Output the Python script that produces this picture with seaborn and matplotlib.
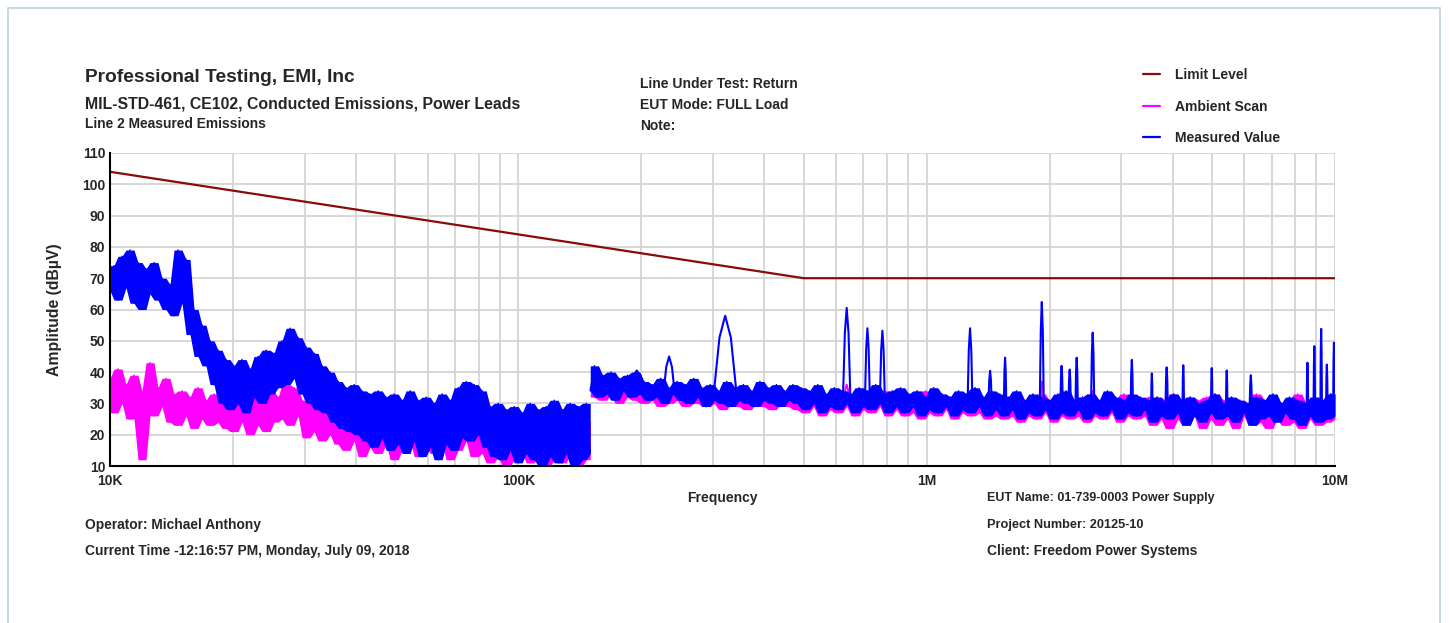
import numpy as np
import pandas as pd
import matplotlib
matplotlib.use("Agg")
import matplotlib.pyplot as plt
import seaborn as sns
from matplotlib.lines import Line2D
from matplotlib.patches import Rectangle
from matplotlib.ticker import FixedLocator, NullFormatter, MultipleLocator

# ---------------- data ----------------
limit_freq = [1e4, 5e5, 1e7]
limit_level = [104, 70, 70]

band_a = (1e4, 1.5e5)      # low band sweep limits (Hz)
band_b = (1.5e5, 1e7)      # high band sweep limits (Hz)

meas_a = [66, 74, 63, 77, 67, 79, 62, 75, 60, 73, 65, 75, 63, 70, 60, 68, 58, 79, 62, 76,
          52, 60, 45, 55, 42, 50, 36, 47, 30, 44, 28, 42, 30, 44, 27, 41, 32, 45, 30, 47,
          33, 46, 35, 50, 36, 54, 38, 51, 33, 48, 30, 46, 28, 42, 27, 40, 24, 37, 22, 35,
          21, 36, 20, 34, 18, 33, 16, 34, 19, 32, 15, 33, 17, 31, 14, 34, 18, 31, 13, 32,
          16, 30, 12, 33, 17, 31, 15, 35, 19, 37, 18, 36, 20, 34, 16, 29, 13, 30, 12, 28,
          15, 29, 11, 27, 14, 30, 12, 28, 10, 29, 13, 31, 11, 28, 14, 30, 10, 29, 12, 30, 14]

meas_b = [34, 42, 32, 39, 33, 40, 31, 38, 34, 39, 32, 40, 33,
          37, 31, 36, 32, 38, 30, 35, 33, 37, 31, 36, 30, 38, 32, 35,
          29, 36, 31, 34, 30, 37, 29, 35, 31, 36, 30, 34, 29, 37, 31, 35, 30, 36, 29, 34, 31, 36, 30, 35,
          28, 34, 30, 36, 27, 33, 29, 35, 28, 34, 30, 33, 27, 35, 29, 34, 28, 36, 30, 33, 27, 34, 29, 35,
          27, 33, 29, 34, 26, 32, 28, 35, 27, 33, 29, 32, 26, 34, 28, 33, 27, 35, 29, 32, 26, 34, 28, 33,
          26, 32, 28, 34, 25, 31, 27, 33, 26, 32, 28, 31, 25, 33, 27, 34, 26, 31, 28, 32, 25, 33, 27, 31,
          26, 34, 28, 32, 25, 31, 27, 33, 26, 32, 28, 31,
          24, 32, 26, 30, 25, 33, 27, 31, 23, 32, 26, 30, 24, 31, 27, 33, 25, 30, 26, 32, 24, 31, 27, 30,
          23, 32, 25, 31, 26, 33, 24, 30, 27, 32, 25, 31, 23, 30, 26, 32, 24, 31, 25, 33, 26]

amb_a = [38, 27, 41, 30, 36, 25, 39, 28, 12, 34, 43, 26, 35, 29, 38, 24, 33,
         23, 34, 26, 32, 22, 35, 25, 31, 23, 33, 24, 30, 22, 34,
         21, 32, 24, 30, 20, 33, 23, 31, 21, 34, 24, 32,
         25, 36, 23, 35, 26,
         31, 19, 30, 21, 32, 18, 29, 20, 31, 17,
         28, 15, 26, 18, 29, 13, 27, 16, 25, 14, 28, 17, 26, 12, 27, 15, 29, 18, 25, 13, 27, 16, 28, 14,
         26, 17, 29, 12, 25, 15, 27, 18, 26, 13, 28,
         14, 25, 11, 26, 13, 24, 10, 27, 12, 25, 14, 26, 11, 24, 13, 27, 10, 25, 12, 26, 11, 24, 14, 25,
         10, 26, 12, 24]

amb_b = [35, 32, 37, 31, 36, 33, 35, 30, 36, 32, 34, 31, 35,
         30, 34, 31, 35, 29, 33, 30, 34, 31, 35, 29, 33, 30, 34, 31,
         29, 34, 30, 33, 28, 35, 30, 33, 29, 34, 28, 33, 30, 35, 29, 33, 28, 34, 30, 33, 29, 35, 28, 33,
         27, 33, 29, 34, 26, 32, 28, 34, 27, 33, 29, 32, 26, 34, 28, 33, 27, 32, 29, 34, 26, 33, 28, 32,
         26, 33, 27, 32, 25, 34, 27, 31, 26, 33, 28, 32, 25, 33, 27, 31, 26, 34, 27, 32, 25, 33, 26, 31,
         25, 32, 26, 33, 24, 31, 26, 32, 25, 33, 27, 31, 24, 32, 26, 33, 25, 31, 26, 32, 24, 33, 26, 31,
         25, 32, 27, 31, 24, 33, 26, 32, 25, 31, 26, 32,
         23, 32, 25, 31, 22, 33, 25, 30, 23, 32, 26, 31, 22, 32, 25, 33, 23, 31, 25, 32, 22, 31, 26, 30,
         23, 33, 24, 31, 22, 32, 25, 30, 23, 31, 24, 33, 22, 30, 25, 32, 23, 31, 24, 33, 25]

# narrow-band emissions: centre frequency, peak level, level at foot, half width (decades)
meas_peak_freq = [195e3, 234e3, 321e3, 637e3, 716e3, 779e3, 1.277e6, 1.43e6, 1.556e6, 1.914e6,
                  2.14e6, 2.24e6, 2.33e6, 2.55e6, 3.18e6, 3.56e6, 3.87e6, 4.25e6, 4.99e6, 5.43e6,
                  6.22e6, 8.56e6, 8.9e6, 9.25e6, 9.55e6, 9.94e6]
meas_peak_level = [40.5, 45, 58, 60.5, 54, 53.2, 54, 40.4, 44.6, 62.4,
                   42, 40.8, 44.6, 52.6, 43.9, 39.6, 41.5, 42.2, 41.3, 40.5,
                   39, 43, 48.3, 53.8, 42.4, 49.4]
meas_peak_foot = [34, 33, 33, 32, 31, 31, 30, 30, 30, 29,
                  29, 29, 29, 29, 28, 28, 28, 28, 28, 28,
                  28, 28, 28, 28, 28, 28]
meas_peak_width = [0.02, 0.014, 0.028, 0.009, 0.006, 0.006, 0.006, 0.004, 0.003, 0.005,
                   0.003, 0.003, 0.003, 0.004, 0.003, 0.002, 0.003, 0.002, 0.002, 0.002,
                   0.003, 0.002, 0.002, 0.002, 0.002, 0.002]

amb_peak_freq = [637e3, 1.277e6, 1.914e6, 2.55e6]
amb_peak_level = [36, 34, 37, 34]
amb_peak_foot = [31, 30, 29, 29]
amb_peak_width = [0.006, 0.004, 0.004, 0.003]

x_tick_vals = [1e4, 1e5, 1e6, 1e7]
x_tick_labels = ["10K", "100K", "1M", "10M"]
y_ticks = list(range(10, 111, 10))

LIMIT_C = "#8b0a0a"
AMB_C = "#ff00ff"
MEAS_C = "#0000ff"

# ---------------- build tables ----------------
def trace(vals_a, vals_b):
    fa = np.geomspace(band_a[0], band_a[1], len(vals_a))
    fb = np.geomspace(band_b[0], band_b[1], len(vals_b))
    return (pd.DataFrame({"f": fa, "v": vals_a}), pd.DataFrame({"f": fb, "v": vals_b}))

def peaks(freqs, levels, foots, widths):
    rows = []
    shape_off = [-1, -0.5, 0, 0.5, 1]
    shape_frac = [0, 0.72, 1, 0.72, 0]
    for k, (f, lv, ft, w) in enumerate(zip(freqs, levels, foots, widths)):
        for o, s in zip(shape_off, shape_frac):
            rows.append({"pk": k, "f": f * 10 ** (o * w), "v": ft + s * (lv - ft)})
    return pd.DataFrame(rows)

meas_da, meas_db = trace(meas_a, meas_b)
amb_da, amb_db = trace(amb_a, amb_b)
meas_pk = peaks(meas_peak_freq, meas_peak_level, meas_peak_foot, meas_peak_width)
amb_pk = peaks(amb_peak_freq, amb_peak_level, amb_peak_foot, amb_peak_width)
limit_df = pd.DataFrame({"f": limit_freq, "v": limit_level})

# ---------------- figure ----------------
sns.set_style("white")
plt.rcParams["font.family"] = ["Liberation Sans", "DejaVu Sans"]
W, H = 1449, 623
fig = plt.figure(figsize=(W / 100, H / 100), dpi=100)
ax = fig.add_axes([110 / W, 1 - 466 / H, 1225 / W, 313 / H])
ax.set_xscale("log")
ax.set_xlim(1e4, 1e7)
ax.set_ylim(10, 110)

kw = dict(ax=ax, estimator=None, sort=False, legend=False)

def draw_trace(df, color, lw, z):
    roll = df["v"].rolling(3, center=True, min_periods=1)
    ax.fill_between(df["f"], roll.min(), roll.max(), color=color, lw=0, zorder=z)
    sns.lineplot(data=df, x="f", y="v", color=color, lw=lw, zorder=z + 0.05, **kw)

draw_trace(amb_da, AMB_C, 1.1, 2.0)
draw_trace(amb_db, AMB_C, 1.1, 2.0)
sns.lineplot(data=amb_pk, x="f", y="v", units="pk", color=AMB_C, lw=1.4, zorder=2.1, **kw)
draw_trace(meas_da, MEAS_C, 1.1, 2.2)
draw_trace(meas_db, MEAS_C, 1.1, 2.2)
sns.lineplot(data=meas_pk, x="f", y="v", units="pk", color=MEAS_C, lw=1.5, zorder=2.3, **kw)
sns.lineplot(data=limit_df, x="f", y="v", color=LIMIT_C, lw=1.6, zorder=2.5, **kw)

# axes styling
for s in ["top", "right"]:
    ax.spines[s].set_visible(False)
for s in ["left", "bottom"]:
    ax.spines[s].set_color("black")
    ax.spines[s].set_linewidth(1.5)
    ax.spines[s].set_zorder(3)
ax.xaxis.set_major_locator(FixedLocator(x_tick_vals))
ax.set_xticklabels(x_tick_labels)
minor_x = [m * d for d in [1e4, 1e5, 1e6] for m in range(2, 10)]
ax.xaxis.set_minor_locator(FixedLocator(minor_x))
ax.xaxis.set_minor_formatter(NullFormatter())
ax.set_yticks(y_ticks)
ax.yaxis.set_minor_locator(MultipleLocator(1))
ax.grid(True, which="major", axis="both", color="#d4d4d4", lw=1.3)
ax.grid(True, which="minor", axis="x", color="#d4d4d4", lw=1.3)
ax.set_axisbelow(True)
ax.tick_params(axis="x", which="both", direction="out", length=5, width=1.2, color="black",
               labelsize=10, pad=1)
ax.tick_params(axis="y", which="major", direction="inout", length=7, width=1.2, labelsize=10, pad=0)
ax.tick_params(axis="y", which="minor", direction="inout", length=4, width=0.8)
for lab in ax.get_xticklabels() + ax.get_yticklabels():
    lab.set_fontweight("bold")
ax.set_xlabel("")
ax.set_ylabel("Amplitude (dBµV)", fontsize=11.3, fontweight="bold")
ax.yaxis.set_label_coords(-0.039, 0.5)

def ftext(x, y, s, size, ha="left"):
    fig.text(x / W, 1 - y / H, s, ha=ha, va="center", fontsize=size, fontweight="bold")

ftext(85, 78, "Professional Testing, EMI, Inc", 13.8)
ftext(85, 104, "MIL-STD-461, CE102, Conducted Emissions, Power Leads", 11.4)
ftext(85, 124, "Line 2 Measured Emissions", 9.9)
ftext(640, 84, "Line Under Test: Return", 10)
ftext(640, 105, "EUT Mode: FULL Load", 10)
ftext(640, 126, "Note:", 10)
ftext(722, 498, "Frequency", 10, ha="center")
ftext(987, 498, "EUT Name: 01-739-0003 Power Supply", 9.0)
ftext(987, 525, "Project Number: 20125-10", 9.2)
ftext(987, 551, "Client: Freedom Power Systems", 9.9)
ftext(85, 525, "Operator: Michael Anthony", 9.9)
ftext(85, 551, "Current Time -12:16:57 PM, Monday, July 09, 2018", 9.9)

# legend (drawn manually at its place)
for yy, lab, col in [(74, "Limit Level", LIMIT_C), (106, "Ambient Scan", AMB_C),
                     (137, "Measured Value", MEAS_C)]:
    fig.add_artist(Line2D([1143 / W, 1160 / W], [1 - yy / H, 1 - yy / H], color=col, lw=1.6,
                          transform=fig.transFigure))
    ftext(1175, yy + 1, lab, 10)

fig.add_artist(Rectangle((8 / W, -0.02), 1432 / W, 1.0 - 8 / H + 0.02, transform=fig.transFigure,
                         fill=False, edgecolor="#c2d4de", lw=1.2))

fig.savefig("out.png", dpi=100)
